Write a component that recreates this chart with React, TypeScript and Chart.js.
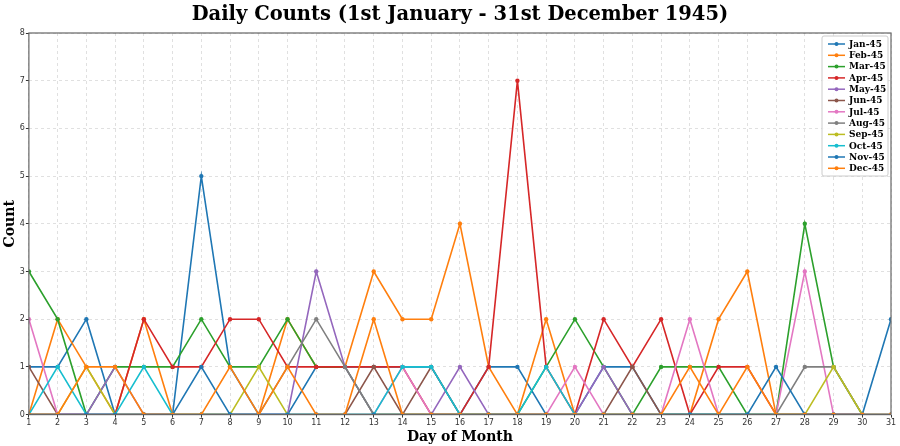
import React, { useEffect, useRef } from "react";
import { Chart, registerables } from "chart.js";

Chart.register(...registerables);

const days = Array.from({ length: 31 }, (_, i) => i + 1);
const monthLabels = ["Jan-45", "Feb-45", "Mar-45", "Apr-45", "May-45", "Jun-45", "Jul-45", "Aug-45", "Sep-45", "Oct-45", "Nov-45", "Dec-45"];
const colors = ["#1f77b4", "#ff7f0e", "#2ca02c", "#d62728", "#9467bd", "#8c564b", "#e377c2", "#7f7f7f", "#bcbd22", "#17becf", "#1f77b4", "#ff7f0e"];
const chartTitle = "Daily Counts (1st January - 31st December 1945)";

const jan = [1, 1, 2, 0, 0, 0, 5, 1, 0, 0, 1, 1, 1, 1, 1, 0, 1, 1, 0, 0, 1, 1, 0, 0, 0, 0, 0, 0, 0, 0, 2];
const feb = [0, 2, 1, 0, 2, 0, 0, 0, 0, 2, 1, 1, 3, 2, 2, 4, 1, 0, 2, 0, 0, 0, 0, 0, 2, 3, 0, 0, null, null, null];
const mar = [3, 2, 0, 1, 1, 1, 2, 1, 1, 2, 1, 1, 0, 0, 0, 0, 0, 0, 1, 2, 1, 0, 1, 1, 1, 0, 0, 4, 1, 0, 0];
const apr = [0, 0, 0, 0, 2, 1, 1, 2, 2, 1, 1, 1, 1, 1, 0, 0, 1, 7, 1, 0, 2, 1, 2, 0, 1, 1, 0, 0, 0, 0, null];
const may = [0, 0, 0, 1, 0, 0, 0, 0, 0, 0, 3, 1, 0, 0, 0, 1, 0, 0, 0, 0, 1, 0, 0, 0, 0, 0, 0, 0, 0, 0, 0];
const jun = [1, 0, 0, 0, 0, 0, 0, 0, 0, 0, 0, 0, 1, 0, 1, 0, 0, 0, 0, 0, 0, 1, 0, 0, 0, 0, 0, 0, 0, 0, null];
const jul = [2, 0, 0, 0, 0, 0, 0, 0, 0, 0, 0, 0, 0, 1, 0, 0, 0, 0, 0, 1, 0, 0, 0, 2, 0, 0, 0, 3, 0, 0, 0];
const aug = [0, 0, 0, 0, 0, 0, 0, 0, 0, 1, 2, 1, 0, 0, 0, 0, 0, 0, 0, 0, 0, 0, 0, 0, 0, 0, 0, 1, 1, 0, 0];
const sep = [0, 0, 1, 0, 0, 0, 0, 0, 1, 0, 0, 0, 0, 0, 0, 0, 0, 0, 0, 0, 0, 0, 0, 0, 0, 0, 0, 0, 1, 0, null];
const oct = [0, 1, 0, 0, 1, 0, 0, 0, 0, 0, 0, 0, 0, 1, 1, 0, 0, 0, 1, 0, 0, 0, 0, 0, 0, 0, 0, 0, 0, 0, 0];
const nov = [0, 0, 0, 0, 0, 0, 1, 0, 0, 0, 0, 0, 0, 0, 0, 0, 0, 0, 0, 0, 0, 0, 0, 0, 0, 0, 1, 0, 0, 0, null];
const dec = [0, 0, 1, 1, 0, 0, 0, 1, 0, 1, 0, 0, 2, 0, 0, 0, 0, 0, 0, 0, 0, 0, 0, 1, 0, 1, 0, 0, 0, 0, 0];

const seriesValues = [jan, feb, mar, apr, may, jun, jul, aug, sep, oct, nov, dec];

const framePlugin = {
  id: "frame",
  afterDatasetsDraw(chart: any) {
    const { ctx, chartArea: a } = chart;
    ctx.save();
    ctx.strokeStyle = "#666";
    ctx.lineWidth = 1.2;
    ctx.strokeRect(a.left, a.top, a.right - a.left, a.bottom - a.top);
    ctx.restore();
  },
};

const titlePlugin = {
  id: "axesTitle",
  afterDraw(chart: any) {
    const { ctx, chartArea: a } = chart;
    ctx.save();
    ctx.fillStyle = "#000";
    ctx.font = "bold 19.5px 'DejaVu Serif'";
    ctx.textAlign = "center";
    ctx.textBaseline = "middle";
    ctx.fillText(chartTitle, (a.left + a.right) / 2, 14.5);
    ctx.restore();
  },
};

const legendPlugin = {
  id: "boxLegend",
  afterDraw(chart: any) {
    const { ctx, chartArea: a } = chart;
    const boxW = 66;
    const boxH = 140;
    const x0 = a.right - boxW - 3;
    const y0 = a.top + 3;
    ctx.save();
    ctx.fillStyle = "rgba(255,255,255,0.85)";
    ctx.strokeStyle = "#cccccc";
    ctx.lineWidth = 1;
    ctx.beginPath();
    if (ctx.roundRect) ctx.roundRect(x0, y0, boxW, boxH, 2);
    else ctx.rect(x0, y0, boxW, boxH);
    ctx.fill();
    ctx.stroke();
    ctx.font = "bold 9px 'DejaVu Serif'";
    ctx.textBaseline = "middle";
    chart.data.datasets.forEach((ds: any, i: number) => {
      const y = y0 + 8 + i * 11.3;
      ctx.strokeStyle = ds.borderColor;
      ctx.lineWidth = 1.5;
      ctx.beginPath();
      ctx.moveTo(x0 + 6, y);
      ctx.lineTo(x0 + 23, y);
      ctx.stroke();
      ctx.fillStyle = ds.borderColor;
      ctx.beginPath();
      ctx.arc(x0 + 14.5, y, 2, 0, Math.PI * 2);
      ctx.fill();
      ctx.fillStyle = "#000";
      ctx.fillText(ds.label, x0 + 27, y + 0.5);
    });
    ctx.restore();
  },
};

export default function App() {
  const ref = useRef<HTMLCanvasElement | null>(null);
  useEffect(() => {
    document.body.style.margin = "0";
    if (!ref.current) return;
    const chart = new Chart(ref.current, {
      type: "line",
      data: {
        datasets: seriesValues.map((vals, i) => ({
          label: monthLabels[i],
          data: days.map((d, j) => ({ x: d, y: vals[j] })),
          borderColor: colors[i],
          backgroundColor: colors[i],
          borderWidth: 1.6,
          pointRadius: 2.2,
          pointBorderWidth: 0,
          pointHoverRadius: 2,
          fill: false,
          tension: 0,
          spanGaps: false,
          order: seriesValues.length - i,
        })),
      },
      options: {
        animation: false,
        responsive: false,
        events: [],
        layout: { padding: { left: 2, right: 9, top: 33, bottom: 0 } },
        plugins: {
          legend: { display: false },
          tooltip: { enabled: false },
          title: { display: false },
        },
        scales: {
          x: {
            type: "linear",
            min: 1,
            max: 31,
            ticks: { stepSize: 1, color: "#333", font: { family: "'DejaVu Sans'", size: 8 }, padding: 1, maxRotation: 0, autoSkip: false },
            grid: { color: "rgba(0,0,0,0.12)", tickColor: "#333", tickLength: 3, tickBorderDash: [] },
            border: { display: false, dash: [3, 3] },
            title: { display: true, text: "Day of Month", color: "#000", font: { family: "'DejaVu Serif'", size: 14, weight: "bold" }, padding: { top: 0, bottom: 0 } },
          },
          y: {
            min: 0,
            max: 8,
            ticks: { stepSize: 1, color: "#333", font: { family: "'DejaVu Sans'", size: 8 }, padding: 1 },
            grid: { color: "rgba(0,0,0,0.12)", tickColor: "#333", tickLength: 3, tickBorderDash: [] },
            border: { display: false, dash: [3, 3] },
            title: { display: true, text: "Count", color: "#000", font: { family: "'DejaVu Serif'", size: 14, weight: "bold" }, padding: { top: 0, bottom: 0 } },
          },
        },
      },
      plugins: [framePlugin, legendPlugin, titlePlugin],
    });
    return () => chart.destroy();
  }, []);
  return (
    <div style={{ width: 900, height: 446 }}>
      <canvas ref={ref} width={900} height={446} style={{ display: "block", width: 900, height: 446 }} />
    </div>
  );
}
